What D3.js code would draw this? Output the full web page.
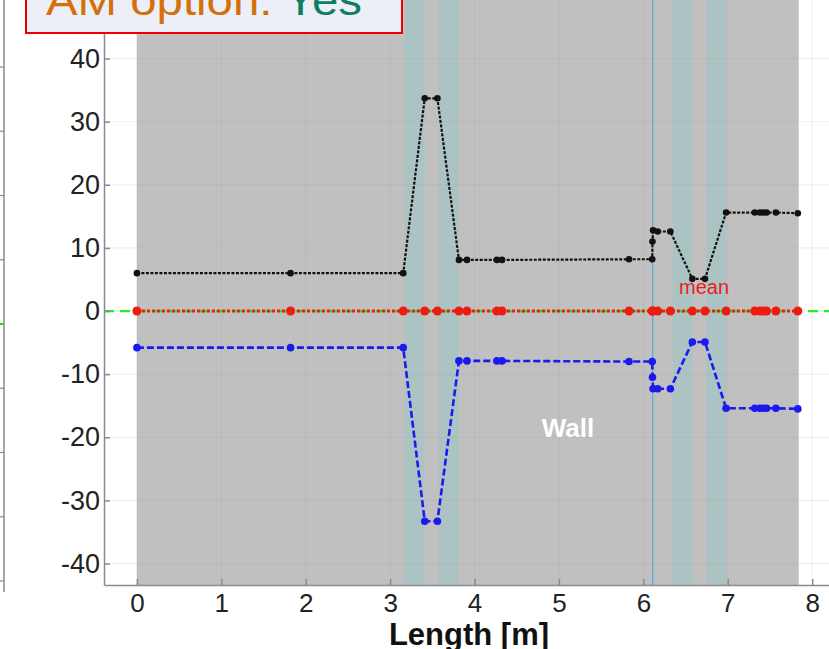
<!DOCTYPE html>
<html lang="en">
<head>
    <meta charset="utf-8" />
    <title>AM option profile</title>
    <script src="https://cdnjs.cloudflare.com/ajax/libs/d3/7.8.5/d3.min.js"></script>
    <style>
        body { margin: 0; background: white; }
        svg { display: block; }
        text { font-family: 'Liberation Sans', Arial, sans-serif; }
        .axis path, .axis line { stroke: #8a8a8a; stroke-width: 1.5; }
        .axis text { font-size: 27px; fill: #222; }
    </style>
</head>
<body>
    <script>

        // Positions along the wall [m]
        const lengths = [0, 1.82, 3.155, 3.41, 3.56, 3.815, 3.91, 4.265, 4.325, 5.83, 6.105, 6.108,
            6.115, 6.17, 6.32, 6.58, 6.73, 6.98, 7.32, 7.38, 7.42, 7.46, 7.57, 7.83];
        // Upper (black), mean (red) and lower (blue) series
        const upper = [6, 6, 6, 33.7, 33.7, 8.1, 8.1, 8.1, 8.1, 8.2, 8.2, 11,
            12.8, 12.6, 12.6, 5.1, 5.1, 15.6, 15.6, 15.6, 15.6, 15.6, 15.6, 15.5];
        const mean = [0, 0, 0, 0, 0, 0, 0, 0, 0, 0, 0, 0,
            0, 0, 0, 0, 0, 0, 0, 0, 0, 0, 0, 0];
        const lower = [-5.8, -5.8, -5.8, -33.3, -33.3, -7.9, -7.9, -7.9, -7.9, -8, -8, -10.5,
            -12.3, -12.3, -12.3, -4.9, -4.9, -15.4, -15.4, -15.4, -15.4, -15.4, -15.4, -15.5];

        // Wall extent, openings (light bands) and marker line
        const wallRange = [0, 7.84];
        const openings = [[3.17, 3.41], [3.58, 3.81], [6.35, 6.58], [6.75, 6.98]];
        const markerX = 6.11;

        // Tick values
        const xTicks = [0, 1, 2, 3, 4, 5, 6, 7, 8];
        const yTicks = [-40, -30, -20, -10, 0, 10, 20, 30, 40];

        const width = 829;
        const height = 649;

        const svg = d3.select("body")
            .append("svg")
            .attr("width", width)
            .attr("height", height);

        // Scales
        const x = d3.scaleLinear().domain([-0.39, 8.3]).range([104, 837.5]);
        const y = d3.scaleLinear().domain([-43.4, 50]).range([585, -4.6]);

        // Edge of the neighbouring panel on the left
        const yLeft = d3.scaleLinear().domain([-40, 40]).range([581, 67]);
        svg.append("line")
            .attr("x1", 4).attr("x2", 4).attr("y1", 0).attr("y2", 592)
            .attr("stroke", "#8a8a8a").attr("stroke-width", 1.5);
        svg.selectAll(".ltick")
            .data(yTicks)
            .enter()
            .append("line")
            .attr("x1", 0).attr("x2", 4)
            .attr("y1", d => yLeft(d)).attr("y2", d => yLeft(d))
            .attr("stroke", "#8a8a8a").attr("stroke-width", 1.2);
        svg.append("line")
            .attr("x1", 0).attr("x2", 4).attr("y1", yLeft(0)).attr("y2", yLeft(0))
            .attr("stroke", "#22dd22").attr("stroke-width", 2);

        // Wall background
        svg.append("rect")
            .attr("x", x(wallRange[0]))
            .attr("y", y(50))
            .attr("width", x(wallRange[1]) - x(wallRange[0]))
            .attr("height", y(-43.4) - y(50))
            .attr("fill", "#c0c0c0");

        // Openings
        svg.selectAll(".opening")
            .data(openings)
            .enter()
            .append("rect")
            .attr("x", d => x(d[0]))
            .attr("y", y(50))
            .attr("width", d => x(d[1]) - x(d[0]))
            .attr("height", y(-43.4) - y(50))
            .attr("fill", "#abc3c3");

        // Grid
        svg.selectAll(".gx")
            .data(xTicks)
            .enter()
            .append("line")
            .attr("x1", d => x(d)).attr("x2", d => x(d))
            .attr("y1", y(50)).attr("y2", y(-43.4))
            .attr("stroke", "#999").attr("stroke-opacity", 0.18);
        svg.selectAll(".gy")
            .data(yTicks)
            .enter()
            .append("line")
            .attr("x1", x(-0.39)).attr("x2", width)
            .attr("y1", d => y(d)).attr("y2", d => y(d))
            .attr("stroke", "#999").attr("stroke-opacity", 0.18);

        // Vertical marker
        svg.append("line")
            .attr("x1", x(markerX)).attr("x2", x(markerX))
            .attr("y1", y(50)).attr("y2", y(-43.4))
            .attr("stroke", "#5ca6dc").attr("stroke-width", 1.2);

        // Zero reference line
        svg.append("line")
            .attr("x1", x(-0.39)).attr("x2", width)
            .attr("y1", y(0)).attr("y2", y(0))
            .attr("stroke", "#22ee22").attr("stroke-width", 2.2)
            .attr("stroke-dasharray", "10,6");

        const line = d3.line()
            .x((d, i) => x(lengths[i]))
            .y(d => y(d));

        // Draw one series with its markers
        function drawSeries(values, color, widthPx, dash, r) {
            svg.append("path")
                .datum(values)
                .attr("d", line)
                .attr("fill", "none")
                .attr("stroke", color)
                .attr("stroke-width", widthPx)
                .attr("stroke-dasharray", dash);
            svg.append("g")
                .selectAll("circle")
                .data(values)
                .enter()
                .append("circle")
                .attr("cx", (d, i) => x(lengths[i]))
                .attr("cy", d => y(d))
                .attr("r", r)
                .attr("fill", color);
        }

        drawSeries(mean, "#ee1c10", 3, "3,2", 4.5);
        drawSeries(upper, "#111", 2.2, "3,1.5", 3.3);
        drawSeries(lower, "#1a1aee", 2.6, "7,3", 3.8);

        // Labels inside the plot
        svg.append("text")
            .attr("x", 679)
            .attr("y", 294)
            .attr("font-size", 20)
            .attr("fill", "#ee1c1c")
            .text("mean");

        svg.append("text")
            .attr("x", 568)
            .attr("y", 437)
            .attr("text-anchor", "middle")
            .attr("font-size", 26)
            .attr("font-weight", "bold")
            .attr("fill", "white")
            .text("Wall");

        // Axes (plain hyphen for negatives)
        svg.append("g")
            .attr("class", "axis")
            .attr("transform", `translate(${x(-0.39)},0)`)
            .call(d3.axisLeft(y).tickValues(yTicks).tickFormat(d => String(d))
                .tickSize(-6).tickSizeOuter(0).tickPadding(4));

        const xAxis = svg.append("g")
            .attr("class", "axis")
            .attr("transform", `translate(0,${y(-43.4)})`)
            .call(d3.axisBottom(x).tickValues(xTicks).tickFormat(d => String(d))
                .tickSize(-6).tickSizeOuter(0).tickPadding(9));
        xAxis.selectAll("text").style("font-size", "26px");

        svg.append("text")
            .attr("x", 469)
            .attr("y", 645)
            .attr("text-anchor", "middle")
            .attr("font-size", 31)
            .attr("font-weight", "bold")
            .attr("fill", "#111")
            .text("Length [m]");

        // Title box
        svg.append("rect")
            .attr("x", 26)
            .attr("y", -10)
            .attr("width", 376)
            .attr("height", 43)
            .attr("fill", "#eceff8")
            .attr("stroke", "#ee0000")
            .attr("stroke-width", 2);

        const title = svg.append("text")
            .attr("x", 46)
            .attr("y", 15)
            .attr("font-size", 42)
            .attr("textLength", 316)
            .attr("lengthAdjust", "spacingAndGlyphs");
        title.append("tspan").attr("fill", "#d4700a").text("AM option: ");
        title.append("tspan").attr("fill", "#0e8060").text("Yes");

    </script>
</body>
</html>
